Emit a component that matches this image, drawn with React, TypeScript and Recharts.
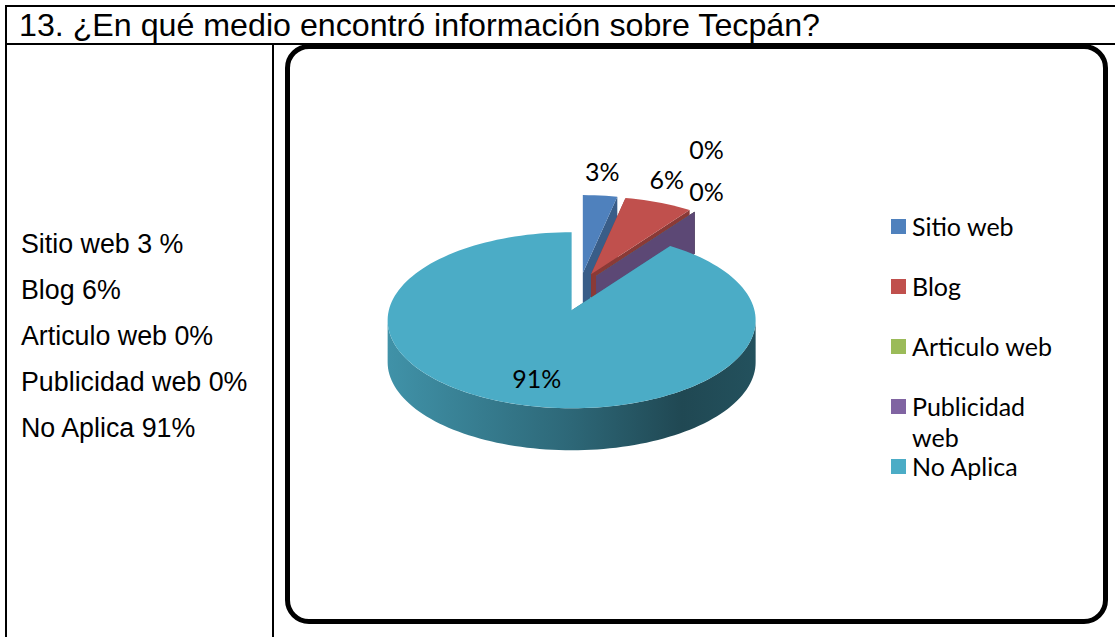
import { Cell, Legend, Pie, PieChart } from "recharts";

const TITLE = "13. ¿En qué medio encontró información sobre Tecpán?";
const CATEGORIES = ["Sitio web", "Blog", "Articulo web", "Publicidad web", "No Aplica"];
const PERCENTS = [3, 6, 0, 0, 91];
const SUMMARY_LINES = ["Sitio web 3 %", "Blog 6%", "Articulo web 0%", "Publicidad web 0%", "No Aplica 91%"];
const COLORS = ["#4F81BD", "#C0504D", "#9BBB59", "#8064A2", "#4BACC6"];

const data = CATEGORIES.map((name, i) => ({ name, value: PERCENTS[i] }));

// fake 3d: squashed ellipse, apex lifted a little for perspective, walls pushed down
const TILT = 88 / 184;
const DEPTH = 42;
const LIFT = 10;
const EXPLODE_X = 30;
const EXPLODE_Y = 19;
const RAD = Math.PI / 180;

type Pt = [number, number];

function shade(hex: string, f: number) {
  const n = parseInt(hex.slice(1), 16);
  const r = Math.round(((n >> 16) & 255) * f);
  const g = Math.round(((n >> 8) & 255) * f);
  const b = Math.round((n & 255) * f);
  return `rgb(${r},${g},${b})`;
}

function rimPoint(cx: number, cy: number, r: number, deg: number): Pt {
  return [cx + r * Math.cos(deg * RAD), cy - r * TILT * Math.sin(deg * RAD)];
}

function arcPoints(cx: number, cy: number, r: number, a1: number, a2: number): Pt[] {
  const n = Math.max(1, Math.ceil(Math.abs(a2 - a1) / 2));
  const pts: Pt[] = [];
  for (let i = 0; i <= n; i++) pts.push(rimPoint(cx, cy, r, a1 + ((a2 - a1) * i) / n));
  return pts;
}

function toPath(pts: Pt[]) {
  return pts.map((p, i) => `${i ? "L" : "M"}${p[0].toFixed(2)},${p[1].toFixed(2)}`).join(" ") + " Z";
}

function explodedCentre(cx: number, cy: number, mid: number): Pt {
  return [cx + EXPLODE_X * Math.cos(mid * RAD), cy - EXPLODE_Y * Math.sin(mid * RAD)];
}

function Slice3D(props: any) {
  const { cx, cy, outerRadius: r, startAngle, endAngle, fill } = props;
  const mid = (startAngle + endAngle) / 2;
  const [ox, oy] = explodedCentre(cx, cy, mid);
  const apex: Pt = [ox, oy - LIFT];
  const down = (p: Pt): Pt => [p[0], p[1] + DEPTH];

  const faces = [startAngle, endAngle].map((a) => {
    const e = rimPoint(ox, oy, r, a);
    return [apex, e, down(e), down(apex)] as Pt[];
  });

  const lo = Math.min(startAngle, endAngle);
  const hi = Math.max(startAngle, endAngle);
  const walls: Pt[][] = [];
  for (let k = -2; k <= 2; k++) {
    const a = Math.max(lo, -180 + 360 * k);
    const b = Math.min(hi, 360 * k);
    if (b > a) {
      const arc = arcPoints(ox, oy, r, a, b);
      walls.push([...arc, ...arc.slice().reverse().map(down)]);
    }
  }

  const top = [apex, ...arcPoints(ox, oy, r, startAngle, endAngle)];
  const gid = `wall-${String(fill).replace("#", "")}`;

  return (
    <g>
      <defs>
        <linearGradient id={gid} gradientUnits="userSpaceOnUse" x1={ox - r} x2={ox + r} y1={0} y2={0}>
          <stop offset="0" stopColor={shade(fill, 0.85)} />
          <stop offset="0.5" stopColor={shade(fill, 0.6)} />
          <stop offset="0.8" stopColor={shade(fill, 0.42)} />
          <stop offset="1" stopColor={shade(fill, 0.47)} />
        </linearGradient>
      </defs>
      {faces.map((f, i) => (
        <path key={`f${i}`} d={toPath(f)} fill={shade(fill, 0.72)} />
      ))}
      {walls.map((w, i) => (
        <path key={`w${i}`} d={toPath(w)} fill={`url(#${gid})`} />
      ))}
      <path d={toPath(top)} fill={fill} />
    </g>
  );
}

function renderLabel(props: any) {
  const { cx, cy, outerRadius: r, startAngle, endAngle, value, index } = props;
  const mid = props.midAngle ?? (startAngle + endAngle) / 2;
  const [ox, oy] = explodedCentre(cx, cy, mid);
  let x: number;
  let y: number;
  if (value > 50) {
    [x, y] = rimPoint(ox, oy, r * 0.68, mid);
  } else {
    const [rx, ry] = rimPoint(ox, oy, r, mid);
    x = rx + 22 * Math.cos(mid * RAD);
    y = ry - 25 * Math.sin(mid * RAD);
    // two 0% labels sit on the same spot, lift the first one
    if (value === 0 && PERCENTS[index + 1] === 0) y -= 42;
  }
  return (
    <text
      key={`lbl-${index}`}
      x={x}
      y={y}
      textAnchor="middle"
      dominantBaseline="central"
      fontFamily="Lato, 'Open Sans', sans-serif"
      fontSize={25}
      fill="#000"
    >
      {`${value}%`}
    </text>
  );
}

function LegendList({ payload }: any) {
  const items = [...(payload || [])].sort(
    (a: any, b: any) => CATEGORIES.indexOf(a.value) - CATEGORIES.indexOf(b.value),
  );
  return (
    <div style={{ position: "relative", fontFamily: "Lato, 'Open Sans', sans-serif", fontSize: 25, lineHeight: "31px", color: "#000" }}>
      {items.map((entry: any, i: number) => (
        <div key={entry.value} style={{ position: "absolute", left: 0, top: i * 60, display: "flex", width: 175 }}>
          <span
            style={{
              width: 15,
              height: 15,
              marginTop: 8,
              marginRight: 6,
              flex: "none",
              background: entry.color || COLORS[CATEGORIES.indexOf(entry.value)],
            }}
          />
          <span style={{ width: 150 }}>{entry.value}</span>
        </div>
      ))}
    </div>
  );
}

const line = "#000";

export default function App() {
  return (
    <div style={{ position: "absolute", left: 0, top: 0, width: 1115, height: 637, background: "#fff", overflow: "hidden" }}>
      {/* table grid */}
      <div style={{ position: "absolute", left: 5, top: 5, width: 1110, height: 2, background: line }} />
      <div style={{ position: "absolute", left: 5, top: 43, width: 1110, height: 2, background: line }} />
      <div style={{ position: "absolute", left: 5, top: 5, width: 2, height: 632, background: line }} />
      <div style={{ position: "absolute", left: 272, top: 43, width: 2, height: 594, background: line }} />

      <div
        style={{
          position: "absolute",
          left: 19,
          top: 6,
          lineHeight: "38px",
          fontFamily: "'Liberation Sans', Arial, sans-serif",
          fontSize: 32.2,
          whiteSpace: "nowrap",
        }}
      >
        {TITLE}
      </div>

      <div
        style={{
          position: "absolute",
          left: 21,
          top: 221,
          lineHeight: "46px",
          fontFamily: "'Liberation Sans', Arial, sans-serif",
          fontSize: 26.8,
          whiteSpace: "nowrap",
        }}
      >
        {SUMMARY_LINES.map((t) => (
          <div key={t}>{t}</div>
        ))}
      </div>

      {/* chart area frame */}
      <div
        style={{
          position: "absolute",
          left: 285,
          top: 44,
          width: 823,
          height: 580,
          boxSizing: "border-box",
          border: "5px solid #000",
          borderRadius: 24,
        }}
      />

      <div style={{ position: "absolute", left: 0, top: 0 }}>
        <PieChart width={1115} height={637} margin={{ top: 0, right: 0, bottom: 0, left: 0 }}>
          <Pie
            data={data}
            dataKey="value"
            nameKey="name"
            cx={580}
            cy={302}
            outerRadius={184}
            startAngle={90}
            endAngle={-270}
            stroke="none"
            shape={Slice3D}
            label={renderLabel}
            labelLine={false}
            isAnimationActive={false}
          >
            {data.map((d, i) => (
              <Cell key={d.name} fill={COLORS[i]} />
            ))}
          </Pie>
          <Legend
            layout="vertical"
            align="right"
            verticalAlign="middle"
            itemSorter={null}
            content={<LegendList />}
            wrapperStyle={{ position: "absolute", left: 891, top: 211, width: 200, height: 290 }}
          />
        </PieChart>
      </div>
    </div>
  );
}
